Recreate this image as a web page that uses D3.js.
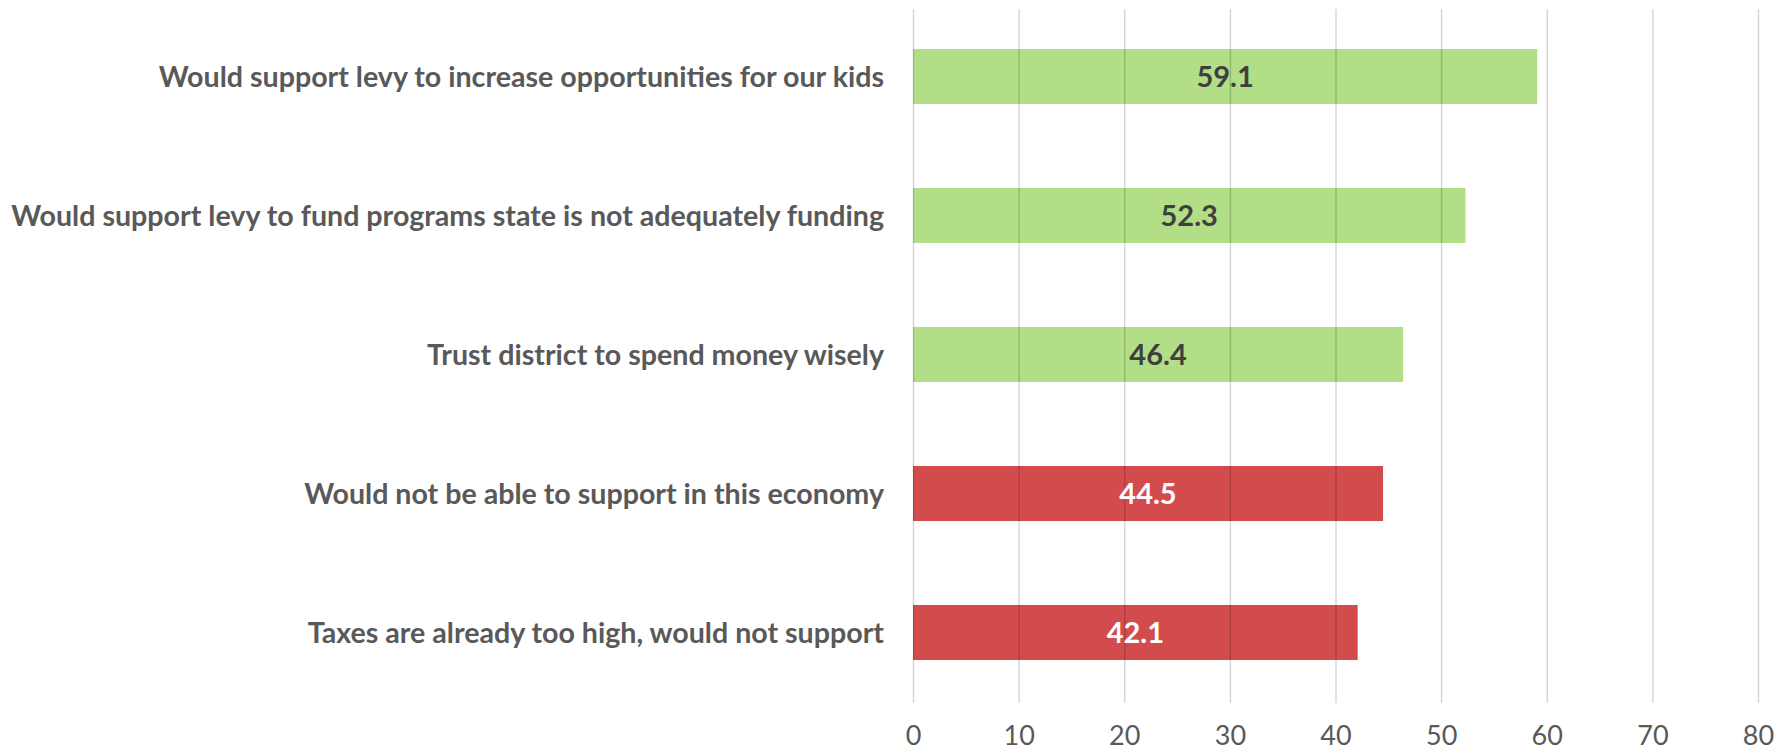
<!DOCTYPE html>
<html>
<head>
<meta charset="utf-8">
<script src="https://cdn.jsdelivr.net/npm/d3@7"></script>
<style>
  html, body { margin: 0; padding: 0; background: #fff; }
  svg { display: block; }
</style>
</head>
<body>
<svg id="chart" width="1792" height="752"></svg>
<script>
// Survey responses on the levy question (percent)
const categories = [
  "Would support levy to increase opportunities for our kids",
  "Would support levy to fund programs state is not adequately funding",
  "Trust district to spend money wisely",
  "Would not be able to support in this economy",
  "Taxes are already too high, would not support"
];
const values = [59.1, 52.3, 46.4, 44.5, 42.1];
const sentiment = ["support", "support", "support", "oppose", "oppose"];
const tickValues = [0, 10, 20, 30, 40, 50, 60, 70, 80];

const fills = { support: "#b1de86", oppose: "#d34c4d" };
const labelInk = { support: "#3f3f3f", oppose: "#ffffff" };

const svg = d3.select("#chart");
const font = "Lato, 'Open Sans', sans-serif";

const x = d3.scaleLinear().domain([0, 80]).range([913, 1758]);
const y = d3.scaleBand().domain(categories).range([7, 702])
  .paddingInner(0.604).paddingOuter(0.302);

const data = categories.map((c, i) => ({ c, v: values[i], s: sentiment[i] }));

// bars
svg.append("g").selectAll("rect").data(data).join("rect")
  .attr("x", x(0))
  .attr("y", d => y(d.c))
  .attr("width", d => x(d.v) - x(0))
  .attr("height", y.bandwidth())
  .attr("fill", d => fills[d.s]);

// vertical gridlines, drawn over the bars
const grid = d3.axisBottom(x).tickValues(tickValues).tickSize(-(703 - 9)).tickFormat("");
svg.append("g")
  .attr("transform", "translate(0,703)")
  .call(grid)
  .call(g => g.select(".domain").remove())
  .call(g => g.selectAll("line").attr("stroke", "rgba(0,0,0,0.16)").attr("stroke-width", 1.5));

// x tick labels
const axis = d3.axisBottom(x).tickValues(tickValues).tickSize(0).tickPadding(0);
svg.append("g")
  .attr("transform", "translate(0,736)")
  .call(axis)
  .call(g => g.select(".domain").remove())
  .call(g => g.selectAll("text")
    .attr("dy", "0.32em")
    .attr("font-family", font)
    .attr("font-size", 27)
    .attr("fill", "#595959"));

// category labels
const cat = svg.append("g").selectAll("text").data(data).join("text")
  .attr("x", 884)
  .attr("y", d => y(d.c) + y.bandwidth() / 2)
  .attr("dy", "0.35em")
  .attr("text-anchor", "end")
  .attr("font-family", font)
  .attr("font-weight", 700)
  .attr("font-size", 28)
  .attr("fill", "#595959")
  .text(d => d.c);

// size the labels so the longest spans the left margin
const longest = d3.max(cat.nodes(), n => n.getComputedTextLength());
cat.attr("font-size", 28 * 873 / longest);

// value labels inside bars
svg.append("g").selectAll("text").data(data).join("text")
  .attr("x", d => (x(0) + x(d.v)) / 2)
  .attr("y", d => y(d.c) + y.bandwidth() / 2)
  .attr("dy", "0.35em")
  .attr("text-anchor", "middle")
  .attr("font-family", font)
  .attr("font-weight", 700)
  .attr("font-size", 29)
  .attr("fill", d => labelInk[d.s])
  .text(d => d3.format(".1f")(d.v));
</script>
</body>
</html>
